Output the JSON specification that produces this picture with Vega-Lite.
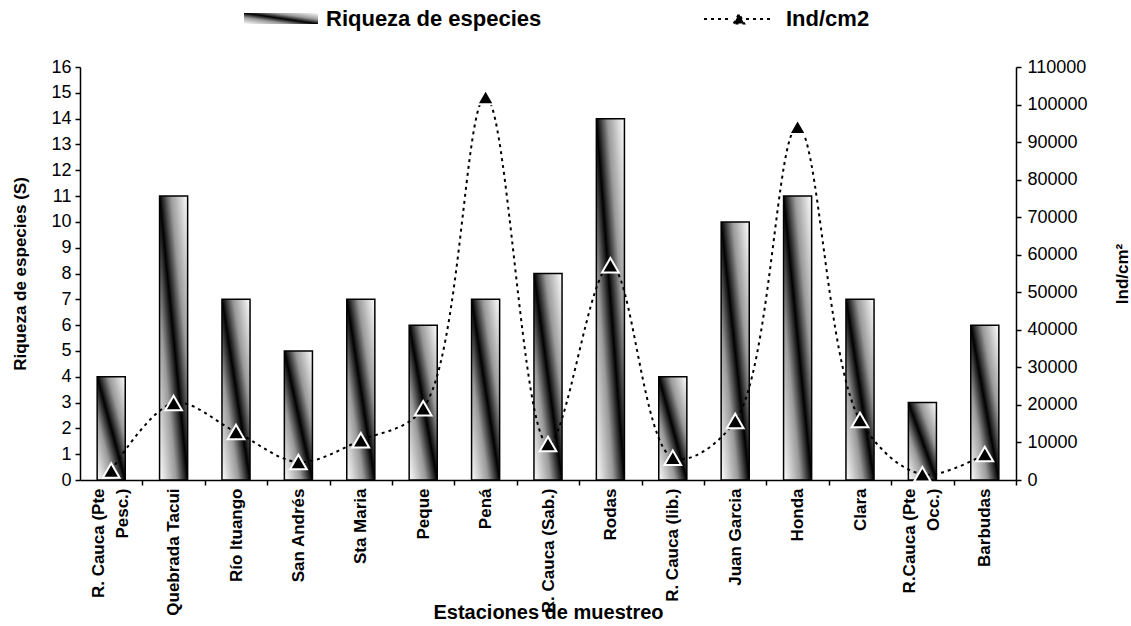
{
  "$schema": "https://vega.github.io/schema/vega-lite/v6.json",
  "width": 936,
  "height": 413,
  "autosize": {"type": "none"},
  "padding": {"left": 80, "top": 67, "right": 115, "bottom": 146},
  "background": "white",
  "config": {
    "view": {"stroke": null},
    "font": "Liberation Sans",
    "axis": {"domainColor": "black", "tickColor": "black", "labelColor": "black", "titleColor": "black", "grid": false, "domainWidth": 1.5, "tickWidth": 1.5}
  },
  "data": {
    "values": [
      {"estacion": "R. Cauca (Pte Pesc.)", "riqueza": 4, "ind": 2500},
      {"estacion": "Quebrada Tacui", "riqueza": 11, "ind": 20500},
      {"estacion": "Río Ituango", "riqueza": 7, "ind": 12800},
      {"estacion": "San Andrés", "riqueza": 5, "ind": 4800},
      {"estacion": "Sta Maria", "riqueza": 7, "ind": 10600},
      {"estacion": "Peque", "riqueza": 6, "ind": 19100},
      {"estacion": "Pená", "riqueza": 7, "ind": 102000},
      {"estacion": "R. Cauca (Sab.)", "riqueza": 8, "ind": 9600},
      {"estacion": "Rodas", "riqueza": 14, "ind": 57200},
      {"estacion": "R. Cauca (lib.)", "riqueza": 4, "ind": 5900},
      {"estacion": "Juan Garcia", "riqueza": 10, "ind": 15700},
      {"estacion": "Honda", "riqueza": 11, "ind": 94100},
      {"estacion": "Clara", "riqueza": 7, "ind": 16000},
      {"estacion": "R.Cauca (Pte Occ.)", "riqueza": 3, "ind": 1500},
      {"estacion": "Barbudas", "riqueza": 6, "ind": 6900}
    ]
  },
  "encoding": {
    "x": {
      "field": "estacion",
      "type": "nominal",
      "sort": null,
      "scale": {"paddingInner": 0.55, "paddingOuter": 0.275},
      "axis": {
        "title": "Estaciones de muestreo",
        "titleFontSize": 20,
        "titleFontWeight": "bold",
        "titleY": 138,
        "titleBaseline": "alphabetic",
        "labelAngle": -90,
        "labelAlign": "right",
        "labelBaseline": "middle",
        "labelFontSize": 17,
        "labelFontWeight": "bold",
        "labelLineHeight": 24,
        "labelPadding": 3,
        "labelOverlap": false,
        "labelBound": false,
        "tickSize": 5,
        "tickOffset": 31.2,
        "labelOffset": {"condition": {"test": "datum.value == 'R. Cauca (Pte Pesc.)' || datum.value == 'R.Cauca (Pte Occ.)'", "value": -44}, "value": -31.2},
        "labelExpr": "datum.value == 'R. Cauca (Pte Pesc.)' ? ['R. Cauca (Pte', 'Pesc.)'] : datum.value == 'R.Cauca (Pte Occ.)' ? ['R.Cauca (Pte', 'Occ.)'] : datum.label"
      }
    }
  },
  "layer": [
    {
      "mark": {"type": "bar", "stroke": "black", "strokeWidth": 1.5, "fill": {"gradient": "linear", "x1": 0, "y1": 1, "x2": 1, "y2": 0, "stops": [{"offset": 0, "color": "#ffffff"}, {"offset": 0.3, "color": "#9a9a9a"}, {"offset": 0.5, "color": "#000000"}, {"offset": 0.7, "color": "#9a9a9a"}, {"offset": 1, "color": "#ffffff"}]}},
      "encoding": {
        "y": {
          "field": "riqueza",
          "type": "quantitative",
          "scale": {"domain": [0, 16], "nice": false},
          "axis": {
            "title": "Riqueza de especies (S)",
            "titleFontSize": 17,
            "titleFontWeight": "bold",
            "titleX": -60,
            "titleY": 206.5,
            "titleAngle": -90,
            "titleBaseline": "middle",
            "values": [0,1,2,3,4,5,6,7,8,9,10,11,12,13,14,15,16],
            "labelFontSize": 18,
            "labelPadding": 4,
            "tickSize": 5
          }
        },
        "opacity": {
          "datum": "Riqueza de especies",
          "scale": {"range": [1]},
          "legend": {
            "orient": "none",
            "legendX": 163,
            "legendY": -86.5,
            "title": null,
            "padding": 0,
            "labelLimit": 600,
            "symbolType": "M-1,-0.15H1V0.15H-1Z",
            "symbolSize": 5476,
            "symbolFillColor": {"gradient": "linear", "x1": 0, "y1": 1, "x2": 1, "y2": 0, "stops": [{"offset": 0, "color": "#ffffff"}, {"offset": 0.3, "color": "#9a9a9a"}, {"offset": 0.5, "color": "#000000"}, {"offset": 0.7, "color": "#9a9a9a"}, {"offset": 1, "color": "#ffffff"}]},
            "symbolStrokeColor": "black",
            "symbolStrokeWidth": 1.5,
            "labelFontSize": 22,
            "labelFontWeight": "bold",
            "labelColor": "black",
            "labelOffset": 7
          }
        }
      }
    },
    {
      "encoding": {
        "y": {
          "field": "ind",
          "type": "quantitative",
          "scale": {"domain": [0, 110000], "nice": false},
          "axis": {
            "orient": "right",
            "title": "Ind/cm²",
            "titleFontSize": 17,
            "titleFontWeight": "bold",
            "titleX": 106,
            "titleY": 206.5,
            "titleAngle": -90,
            "titleBaseline": "middle",
            "values": [0,10000,20000,30000,40000,50000,60000,70000,80000,90000,100000,110000],
            "format": "d",
            "labelFontSize": 18,
            "labelPadding": 6,
            "tickSize": 5
          }
        }
      },
      "layer": [
        {
          "mark": {"type": "line", "interpolate": "catmull-rom", "strokeWidth": 2, "strokeDash": [3, 4]},
          "encoding": {
            "stroke": {
              "datum": "Ind/cm2",
              "scale": {"range": ["black"]},
              "legend": {
                "orient": "none",
                "legendX": 623,
                "legendY": -84,
                "title": null,
                "padding": 0,
                "labelLimit": 600,
                "symbolType": "M-1,0H-0.2M0.2,0H1M-0.15,0.13L0,-0.15L0.15,0.13Z",
                "symbolSize": 4900,
                "symbolStrokeWidth": 2,
                "symbolDash": [3, 4],
                "symbolFillColor": "black",
                "labelFontSize": 22,
                "labelFontWeight": "bold",
                "labelColor": "black",
                "labelOffset": 11
              }
            }
          }
        },
        {
          "mark": {"type": "point", "shape": "triangle-up", "filled": true, "fill": "black", "stroke": "white", "strokeWidth": 2, "size": 280, "opacity": 1}
        }
      ]
    }
  ],
  "resolve": {"scale": {"y": "independent", "opacity": "independent", "stroke": "independent"}, "axis": {"y": "independent"}, "legend": {"opacity": "independent", "stroke": "independent"}}
}
